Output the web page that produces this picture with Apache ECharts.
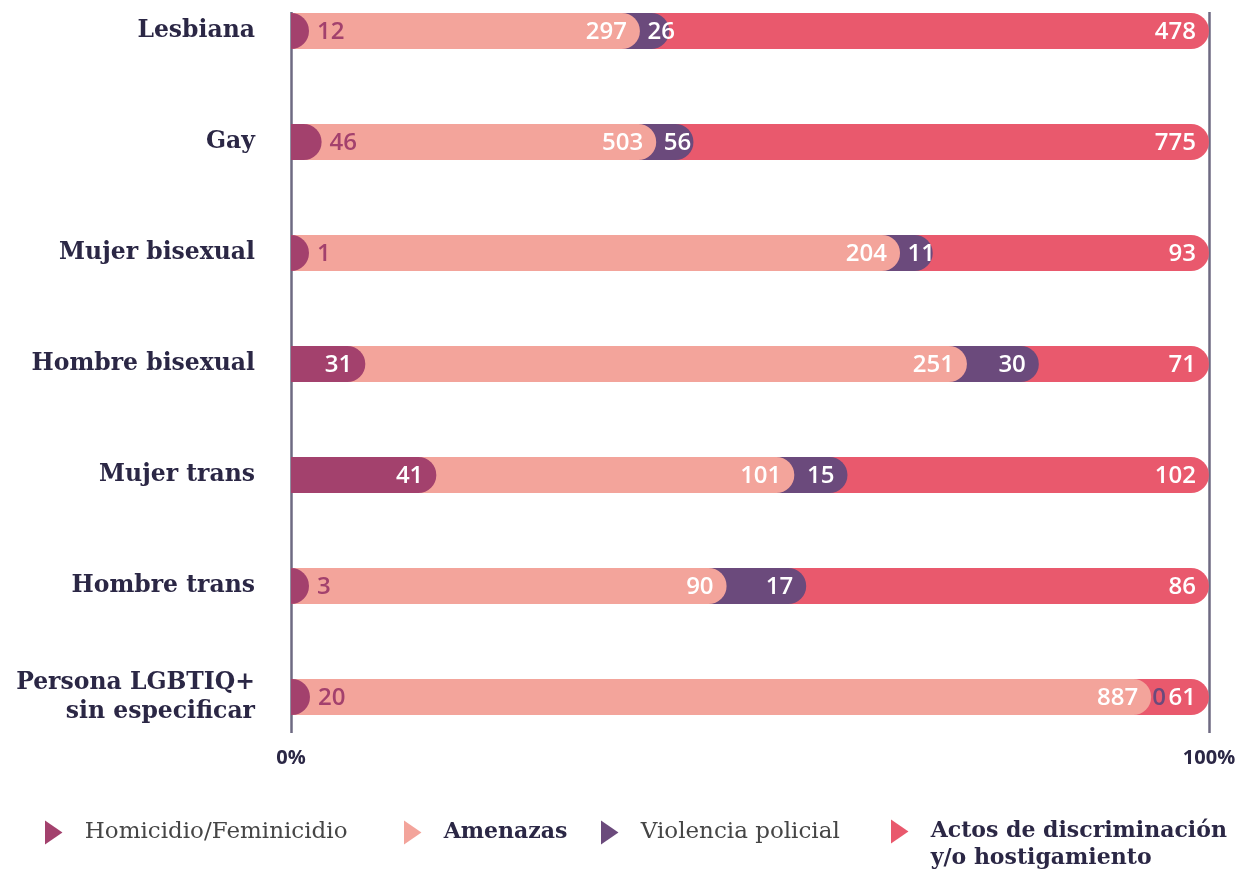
<!DOCTYPE html>
<html>
<head>
<meta charset="utf-8">
<script src="https://cdn.jsdelivr.net/npm/echarts@6/dist/echarts.min.js"></script>
<style>
  html, body { margin: 0; padding: 0; background: #fff; }
  #main { width: 1242px; height: 872px; }
</style>
</head>
<body>
<div id="main"></div>
<script>
// categorias y valores por tipo de violencia
var categories = ['Lesbiana', 'Gay', 'Mujer bisexual', 'Hombre bisexual', 'Mujer trans', 'Hombre trans', 'Persona LGBTIQ+\nsin especificar'];
var homicidio = [12, 46, 1, 31, 41, 3, 20];
var amenazas = [297, 503, 204, 251, 101, 90, 887];
var violencia = [26, 56, 11, 30, 15, 17, 0];
var actos = [478, 775, 93, 71, 102, 86, 61];
var xTicks = [0, 100];

var seriesNames = ['Homicidio/Feminicidio', 'Amenazas', 'Violencia policial', 'Actos de discriminación\ny/o hostigamiento'];
var seriesColors = ['#a3416d', '#f3a49b', '#6b4a7c', '#e9596d'];
var seriesValues = [homicidio, amenazas, violencia, actos];

var dark = '#2b2745';
var barH = 36, rad = 18;
var numFont = '600 24px "Open Sans"';
var digitW = 14.5;

var myChart = echarts.init(document.getElementById('main'));

// totales por categoria -> porcentajes acumulados
var totals = categories.map(function (c, i) {
    return seriesValues.reduce(function (s, arr) { return s + arr[i]; }, 0);
});

function buildData(k) {
    return categories.map(function (c, i) {
        var start = 0;
        for (var j = 0; j < k; j++) start += seriesValues[j][i];
        var end = start + seriesValues[k][i];
        return [i, start / totals[i] * 100, end / totals[i] * 100, seriesValues[k][i]];
    });
}

function renderItem(params, api) {
    var k = params.seriesIndex;
    var i = api.value(0);
    var origin = api.coord([0, i])[0];
    var p0 = api.coord([api.value(1), i]);
    var p1 = api.coord([api.value(2), i]);
    var v = api.value(3);
    var y = p0[1];
    var color = seriesColors[k];
    var children = [];
    var txt = String(v);
    var tw = txt.length * digitW;
    // cada tramo arranca debajo de la punta redondeada del anterior
    var xs = k === 0 ? p0[0] : Math.max(origin, p0[0] - rad);
    var w = p1[0] - xs;
    if (k === 0) w = Math.max(w, rad);
    if (v > 0) {
        children.push({
            type: 'rect',
            shape: { x: xs, y: y - barH / 2, width: w, height: barH, r: [0, rad, rad, 0] },
            style: { fill: color }
        });
    }
    var label;
    if (v === 0) {
        label = { x: p0[0] + 1, align: 'left', fill: color };
    } else if (k === 0 && (p1[0] - p0[0]) < tw + 24) {
        label = { x: xs + w + 8, align: 'left', fill: color };
    } else {
        label = { x: Math.max(p1[0] - 13, p0[0] + tw + 6), align: 'right', fill: '#fff' };
    }
    children.push({
        type: 'text',
        x: label.x,
        y: y + 1,
        style: { text: txt, fill: label.fill, font: numFont, align: label.align, verticalAlign: 'middle' }
    });
    return { type: 'group', children: children };
}

var series = seriesNames.map(function (name, k) {
    return {
        type: 'custom',
        name: name,
        xAxisIndex: 0,
        yAxisIndex: 0,
        z: 10 - k,
        itemStyle: { color: seriesColors[k] },
        renderItem: renderItem,
        encode: { x: [1, 2], y: 0 },
        data: buildData(k)
    };
});

var boldText = { fontFamily: 'DejaVu Serif', fontWeight: 'bold', fontSize: 22, color: dark, lineHeight: 27, padding: [0, 0, 0, 17] };
var plainText = { fontFamily: 'DejaVu Serif', fontWeight: 'normal', fontSize: 23, color: '#454545', lineHeight: 27, padding: [0, 0, 0, 17] };
var legendLeft = [40, 399, 596, 886];
var legendTop = [814, 814, 814, 786];
var legendText = [plainText, boldText, plainText, boldText];

var legends = seriesNames.map(function (name, k) {
    return {
        left: legendLeft[k],
        top: legendTop[k],
        itemWidth: 18,
        itemHeight: 24,
        icon: 'path://M0,0L16,11L0,22Z',
        data: [{ name: name }],
        textStyle: legendText[k],
        // linea vacia arriba: asi el triangulo queda a la altura de la primera linea
        formatter: k === 3 ? function (n) { return ' \n' + n; } : '{name}'
    };
});

var option = {
    animation: false,
    backgroundColor: '#fff',
    grid: [
        { left: 291, right: 33, top: 31, bottom: 175 },  // barras
        { left: 291, right: 33, top: 12, bottom: 139 }   // lineas 0% / 100%
    ],
    xAxis: [
        { gridIndex: 0, type: 'value', min: 0, max: 100, show: false },
        {
            gridIndex: 1, type: 'value', min: xTicks[0], max: xTicks[1], interval: 100,
            axisLine: { show: false },
            axisTick: { show: false },
            splitLine: { show: true, lineStyle: { color: '#6e6a82', width: 2.5 } },
            axisLabel: {
                margin: 15,
                formatter: '{value}%',
                color: dark,
                fontFamily: 'Open Sans',
                fontWeight: 'bold',
                fontSize: 20
            }
        }
    ],
    yAxis: [
        {
            gridIndex: 0, type: 'category', inverse: true, boundaryGap: false,
            data: categories,
            axisLine: { show: false },
            axisTick: { show: false },
            splitLine: { show: false },
            axisLabel: {
                margin: 36,
                color: dark,
                fontFamily: 'DejaVu Serif',
                fontWeight: 'bold',
                fontSize: 23.5,
                lineHeight: 29
            }
        },
        { gridIndex: 1, type: 'value', show: false, min: 0, max: 1 }
    ],
    legend: legends,
    series: series
};

myChart.setOption(option);
</script>
</body>
</html>
